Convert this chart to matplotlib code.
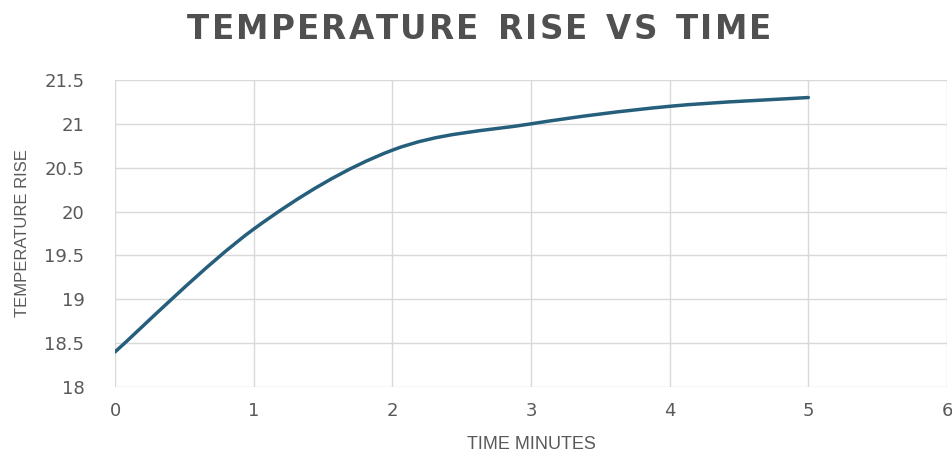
import numpy as np
import matplotlib
matplotlib.use("Agg")
import matplotlib.pyplot as plt
from matplotlib.path import Path
from matplotlib.patches import PathPatch

# data
time_min = [0, 1, 2, 3, 4, 5]
temp_rise = [18.4, 19.8, 20.7, 21.0, 21.2, 21.3]

title_txt = "TEMPERATURE RISE VS TIME"
xlabel_txt = "TIME MINUTES"
ylabel_txt = "TEMPERATURE RISE"
xticks = [0, 1, 2, 3, 4, 5, 6]
yticks = [18, 18.5, 19, 19.5, 20, 20.5, 21, 21.5]

line_col = "#265f7c"
grid_col = "#d9d9d9"
text_col = "#595959"


def smooth_path(x, y, t=0.5):
    # excel-like smoothed line: cubic bezier with catmull-rom control points
    x = np.asarray(x, float)
    y = np.asarray(y, float)
    verts = [(x[0], y[0])]
    codes = [Path.MOVETO]
    n = len(x)
    for i in range(n - 1):
        p0 = np.array([x[max(i - 1, 0)], y[max(i - 1, 0)]])
        p1 = np.array([x[i], y[i]])
        p2 = np.array([x[i + 1], y[i + 1]])
        p3 = np.array([x[min(i + 2, n - 1)], y[min(i + 2, n - 1)]])
        c1 = p1 + (p2 - p0) * t / 3
        c2 = p2 - (p3 - p1) * t / 3
        verts += [tuple(c1), tuple(c2), tuple(p2)]
        codes += [Path.CURVE4] * 3
    return Path(verts, codes)


def spaced_title(fig, s, xc, yc, spacing, **kw):
    # matplotlib has no letter spacing, so place chars one by one
    r = fig.canvas.get_renderer()
    widths = []
    for ch in s:
        t = fig.text(0, 0, ch if ch != " " else "I", **kw)
        w = t.get_window_extent(r).width
        if ch == " ":
            w *= 1.2
        widths.append(w)
        t.remove()
    total = sum(widths) + spacing * (len(s) - 1)
    W, H = fig.bbox.width, fig.bbox.height
    x = xc * W - total / 2
    for ch, w in zip(s, widths):
        if ch != " ":
            fig.text(x / W, yc, ch, ha="left", va="center", **kw)
        x += w + spacing


fig = plt.figure(figsize=(9.53, 4.54), dpi=100)
ax = fig.add_axes([0.1207, 0.1476, 0.8730, 0.6762])

ax.add_patch(PathPatch(smooth_path(time_min, temp_rise), fill=False,
                       edgecolor=line_col, linewidth=2.5, capstyle="round"))

ax.set_xlim(0, 6)
ax.set_ylim(18, 21.5)
ax.set_xticks(xticks)
ax.set_yticks(yticks)
ax.set_xticklabels([str(v) for v in xticks])
ax.set_yticklabels([f"{v:g}" for v in yticks])
ax.grid(True, color=grid_col, linewidth=1.0)
ax.set_axisbelow(True)
for sp in ax.spines.values():
    sp.set_visible(False)
ax.tick_params(length=0, colors=text_col, labelsize=13, pad=11)
ax.tick_params(axis="y", pad=22)

ax.set_xlabel(xlabel_txt, color=text_col, fontsize=13, labelpad=11,
              family="Liberation Sans")
ax.set_ylabel(ylabel_txt, color=text_col, fontsize=12, labelpad=10,
              family="Liberation Sans")

spaced_title(fig, title_txt, 0.503, 0.934, 2.2, fontsize=23.5,
             fontweight="bold", color="#505050", family="DejaVu Sans")

fig.savefig("out.png", dpi=100)
